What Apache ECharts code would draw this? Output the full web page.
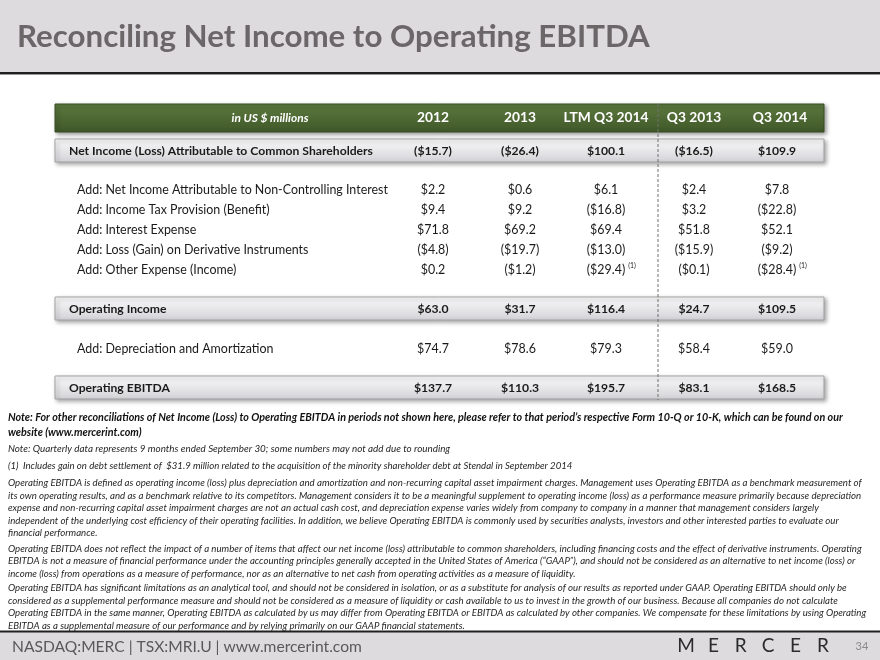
<!DOCTYPE html>
<html>
<head>
<meta charset="utf-8">
<script src="https://cdn.jsdelivr.net/npm/echarts@6/dist/echarts.min.js"></script>
<style>
html, body { margin: 0; padding: 0; background: #ffffff; }
#slide { width: 880px; height: 660px; }
</style>
</head>
<body>
<div id="slide"></div>
<script>
// ---- data ----
const title = 'Reconciling Net Income to Operating EBITDA';
const unitLabel = 'in US $ millions';
const periods = ['2012', '2013', 'LTM Q3 2014', 'Q3 2013', 'Q3 2014'];
const rowNames = [
    'Net Income (Loss) Attributable to Common Shareholders',
    'Add: Net Income Attributable to Non-Controlling Interest',
    'Add: Income Tax Provision (Benefit)',
    'Add: Interest Expense',
    'Add: Loss (Gain) on Derivative Instruments',
    'Add: Other Expense (Income)',
    'Operating Income',
    'Add: Depreciation and Amortization',
    'Operating EBITDA'
];
const netIncome = [-15.7, -26.4, 100.1, -16.5, 109.9];
const nonControlling = [2.2, 0.6, 6.1, 2.4, 7.8];
const incomeTax = [9.4, 9.2, -16.8, 3.2, -22.8];
const interestExpense = [71.8, 69.2, 69.4, 51.8, 52.1];
const derivatives = [-4.8, -19.7, -13.0, -15.9, -9.2];
const otherExpense = [0.2, -1.2, -29.4, -0.1, -28.4];
const otherExpenseNotes = ['', '', '(1)', '', '(1)'];
const operatingIncome = [63.0, 31.7, 116.4, 24.7, 109.5];
const depreciation = [74.7, 78.6, 79.3, 58.4, 59.0];
const operatingEbitda = [137.7, 110.3, 195.7, 83.1, 168.5];

const noteBold = [
    'Note: For other reconciliations of Net Income (Loss) to Operating EBITDA in periods not shown here, please refer to that period\u2019s respective Form 10-Q or 10-K, which can be found on our',
    'website (www.mercerint.com)'
];
const noteQuarterly = 'Note: Quarterly data represents 9 months ended September 30; some numbers may not add due to rounding';
const noteOne = '(1)  Includes gain on debt settlement of  $31.9 million related to the acquisition of the minority shareholder debt at Stendal in September 2014';
const paragraphs = [
    [
        'Operating EBITDA is defined as operating income (loss) plus depreciation and amortization and non-recurring capital asset impairment charges. Management uses Operating EBITDA as a benchmark measurement of',
        'its own operating results, and as a benchmark relative to its competitors. Management considers it to be a meaningful supplement to operating income (loss) as a performance measure primarily because depreciation',
        'expense and non-recurring capital asset impairment charges are not an actual cash cost, and depreciation expense varies widely from company to company in a manner that management considers largely',
        'independent of the underlying cost efficiency of their operating facilities. In addition, we believe Operating EBITDA is commonly used by securities analysts, investors and other interested parties to evaluate our',
        'financial performance.'
    ],
    [
        'Operating EBITDA does not reflect the impact of a number of items that affect our net income (loss) attributable to common shareholders, including financing costs and the effect of derivative instruments. Operating',
        'EBITDA is not a measure of financial performance under the accounting principles generally accepted in the United States of America (\u201cGAAP\u201d), and should not be considered as an alternative to net income (loss) or',
        'income (loss) from operations as a measure of performance, nor as an alternative to net cash from operating activities as a measure of liquidity.'
    ],
    [
        'Operating EBITDA has significant limitations as an analytical tool, and should not be considered in isolation, or as a substitute for analysis of our results as reported under GAAP. Operating EBITDA should only be',
        'considered as a supplemental performance measure and should not be considered as a measure of liquidity or cash available to us to invest in the growth of our business. Because all companies do not calculate',
        'Operating EBITDA in the same manner, Operating EBITDA as calculated by us may differ from Operating EBITDA or EBITDA as calculated by other companies. We compensate for these limitations by using Operating',
        'EBITDA as a supplemental measure of our performance and by relying primarily on our GAAP financial statements.'
    ]
];
const footerText = 'NASDAQ:MERC | TSX:MRI.U | www.mercerint.com';
const logoLetters = ['M', 'E', 'R', 'C', 'E', 'R'];
const pageNumber = '34';

// ---- helpers ----
const FONT = 'Lato, "Open Sans", sans-serif';
const ctx = document.createElement('canvas').getContext('2d');

const fontStr = (size, bold, italic) =>
    (italic ? 'italic ' : 'normal ') + (bold ? 'bold ' : 'normal ') + size.toFixed(2) + 'px ' + FONT;

const measure = (text, size, bold, italic) => {
    ctx.font = fontStr(size, bold, italic);
    return ctx.measureText(text).width;
};

// font size that makes the text span the given width
const fitSize = (text, width, bold, italic) => 100 * width / measure(text, 100, bold, italic);

const fmt = v => v < 0 ? '($' + Math.abs(v).toFixed(1) + ')' : '$' + v.toFixed(1);

const txt = (text, x, y, size, o) => {
    o = o || {};
    return {
        type: 'text',
        silent: true,
        z: o.z || 20,
        style: {
            text: text,
            x: x,
            y: y,
            fill: o.color || '#1a1a1a',
            font: fontStr(size, o.bold, o.italic),
            align: o.align || 'left',
            textAlign: o.align || 'left',
            verticalAlign: 'middle',
            textVerticalAlign: 'middle'
        }
    };
};

const grad = (top, bottom) => new echarts.graphic.LinearGradient(0, 0, 0, 1, [
    { offset: 0, color: top },
    { offset: 1, color: bottom }
]);

// ---- layout ----
const tableLeft = 55;
const tableRight = 824;
const colCenters = [433, 520, 606, 694, 777];
const dividerX = 658;

const titleSize = fitSize(title, 633, true);
const headSize = fitSize('LTM Q3 2014', 85, true);
const unitSize = fitSize(unitLabel, 77, true, true);
const boldSize = fitSize(rowNames[0], 304, true);
const regSize = fitSize(rowNames[1], 311);
const noteBoldSize = fitSize(noteBold[0], 835, true, true);
const paraSize = fitSize(paragraphs[0][0], 854, false, true);
const quarterSize = fitSize(noteQuarterly, 443, false, true);
const oneSize = fitSize(noteOne, 565, false, true);
const footerSize = fitSize(footerText, 350);

const rows = [
    { name: rowNames[0], values: netIncome, total: true, y: 151 },
    { name: rowNames[1], values: nonControlling, y: 190 },
    { name: rowNames[2], values: incomeTax, y: 210 },
    { name: rowNames[3], values: interestExpense, y: 230 },
    { name: rowNames[4], values: derivatives, y: 250 },
    { name: rowNames[5], values: otherExpense, notes: otherExpenseNotes, y: 270 },
    { name: rowNames[6], values: operatingIncome, total: true, y: 309 },
    { name: rowNames[7], values: depreciation, y: 349 },
    { name: rowNames[8], values: operatingEbitda, total: true, y: 388 }
];

const els = [];

// title band
els.push({ type: 'rect', silent: true, z: 1, shape: { x: 0, y: 0, width: 880, height: 72 }, style: { fill: '#dddbde' } });
els.push({ type: 'rect', silent: true, z: 2, shape: { x: 0, y: 72, width: 880, height: 2 }, style: { fill: '#202020' } });
els.push({ type: 'rect', silent: true, z: 2, shape: { x: 0, y: 74, width: 880, height: 1 }, style: { fill: '#9a9a9a' } });
els.push(txt(title, 17, 37, titleSize, { bold: true, color: '#6b6769' }));

// header bar
els.push({
    type: 'rect', silent: true, z: 5,
    shape: { x: tableLeft, y: 104, width: tableRight - tableLeft, height: 28 },
    style: {
        fill: grad('#5d7a3f', '#3f5728'),
        stroke: '#3a4f25', lineWidth: 1,
        shadowBlur: 4, shadowOffsetX: 2, shadowOffsetY: 2, shadowColor: 'rgba(0,0,0,0.4)'
    }
});
els.push(txt(unitLabel, 270, 118, unitSize, { bold: true, italic: true, color: '#ffffff', align: 'center' }));
periods.forEach((p, i) => {
    els.push(txt(p, colCenters[i] + (i === 4 ? 3 : 0), 118, headSize, { bold: true, color: '#ffffff', align: 'center' }));
});

// rows
rows.forEach(r => {
    if (r.total) {
        els.push({
            type: 'rect', silent: true, z: 5,
            shape: { x: tableLeft, y: r.y - 12, width: tableRight - tableLeft, height: 23 },
            style: {
                fill: grad('#fbfbfc', '#d3d2d6'),
                stroke: '#a3a3a3', lineWidth: 1,
                shadowBlur: 4, shadowOffsetX: 2, shadowOffsetY: 2, shadowColor: 'rgba(0,0,0,0.35)'
            }
        });
    }
    const size = r.total ? boldSize : regSize;
    els.push(txt(r.name, r.total ? 69 : 77, r.y, size, { bold: r.total }));
    r.values.forEach((v, i) => {
        const s = fmt(v);
        els.push(txt(s, colCenters[i], r.y, size, { bold: r.total, align: 'center' }));
        if (r.notes && r.notes[i]) {
            const w = measure(s, size, r.total);
            els.push(txt(r.notes[i], colCenters[i] + w / 2 + 3, r.y - 4, size * 0.55, {}));
        }
    });
});

// dashed divider between annual and quarterly columns
els.push({
    type: 'line', silent: true, z: 30,
    shape: { x1: dividerX, y1: 104, x2: dividerX, y2: 400 },
    style: { stroke: '#707070', lineWidth: 1, lineDash: [3, 2] }
});

// notes
els.push(txt(noteBold[0], 8, 418, noteBoldSize, { bold: true, italic: true, color: '#111111' }));
els.push(txt(noteBold[1], 8, 433, noteBoldSize, { bold: true, italic: true, color: '#111111' }));
els.push(txt(noteQuarterly, 8, 449, quarterSize, { italic: true, color: '#262626' }));
els.push(txt(noteOne, 8, 466, oneSize, { italic: true, color: '#262626' }));

const paraStarts = [483, 548.5, 588];
paragraphs.forEach((lines, p) => {
    lines.forEach((line, k) => {
        els.push(txt(line, 8, paraStarts[p] + k * 12.5, paraSize, { italic: true, color: '#262626' }));
    });
});

// footer band
els.push({ type: 'rect', silent: true, z: 1, shape: { x: 0, y: 632, width: 880, height: 28 }, style: { fill: '#dddbde' } });
els.push({ type: 'rect', silent: true, z: 2, shape: { x: 0, y: 630.5, width: 880, height: 2 }, style: { fill: '#202020' } });
els.push(txt(footerText, 12, 647, footerSize, { color: '#595959' }));
logoLetters.forEach((l, i) => {
    els.push(txt(l, 686 + i * 27.4, 646, 19, { color: '#2b2b2b', align: 'center' }));
});
els.push(txt(pageNumber, 862, 646, 11, { color: '#8a8a8a', align: 'center' }));

const chart = echarts.init(document.getElementById('slide'), null, { renderer: 'canvas' });
chart.setOption({
    animation: false,
    backgroundColor: '#ffffff',
    graphic: { elements: els }
});
</script>
</body>
</html>
